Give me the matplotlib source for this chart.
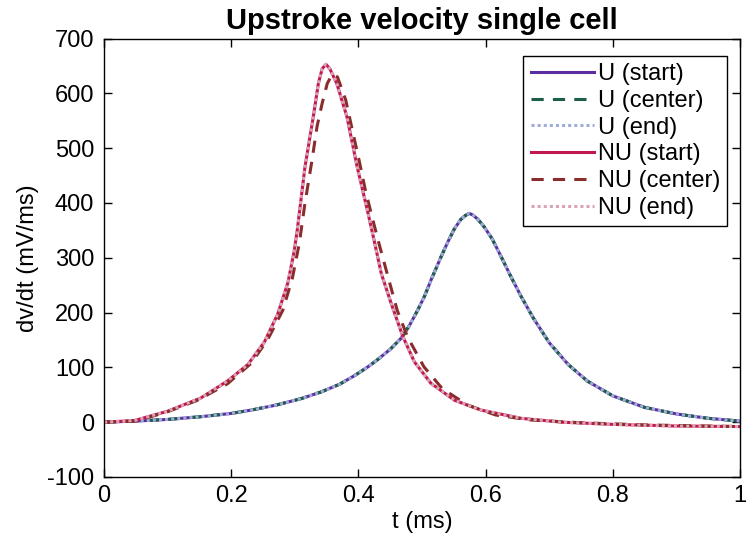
import matplotlib
matplotlib.use('Agg')
import matplotlib.pyplot as plt

# U curves (start, center and end overlap)
t_u = [0, 0.05, 0.1, 0.152, 0.2, 0.231, 0.27, 0.31, 0.341, 0.37, 0.394, 0.415, 0.43,
       0.45, 0.467, 0.48, 0.493, 0.504, 0.514, 0.53, 0.541, 0.551, 0.561, 0.568, 0.574,
       0.58, 0.588, 0.598, 0.61, 0.624, 0.64, 0.656, 0.675, 0.7, 0.73, 0.76, 0.8, 0.85,
       0.9, 0.95, 1.0]
v_u = [0, 2, 5, 10, 16, 22, 31, 43, 55, 69, 85, 101, 114,
       133, 153, 176, 204, 230, 259, 302, 330, 353, 370, 377, 381,
       378, 370, 356, 335, 303, 265, 229, 190, 145, 105, 75, 48, 27,
       15, 7, 2]

# NU start / end
t_nu = [0, 0.048, 0.1, 0.152, 0.194, 0.226, 0.252, 0.273, 0.289, 0.299, 0.304, 0.316,
        0.329, 0.337, 0.343, 0.349, 0.355, 0.366, 0.382, 0.398, 0.414, 0.425, 0.436,
        0.452, 0.47, 0.488, 0.514, 0.551, 0.593, 0.656, 0.72, 0.8, 0.9, 1.0]
v_nu = [0, 3, 20, 44, 75, 105, 146, 197, 254, 312, 352, 466,
        557, 618, 645, 653, 645, 618, 557, 466, 387, 330, 271,
        215, 156, 110, 71, 40, 22, 7, 0, -4, -7, -8]

# NU center
t_nuc = [0, 0.05, 0.1, 0.147, 0.194, 0.231, 0.257, 0.281, 0.296, 0.307, 0.316, 0.327,
         0.335, 0.343, 0.351, 0.359, 0.367, 0.38, 0.39, 0.401, 0.411, 0.422, 0.433,
         0.448, 0.461, 0.477, 0.503, 0.532, 0.572, 0.616, 0.67, 0.75, 0.85, 1.0]
v_nuc = [0, 2, 19, 40, 70, 107, 150, 204, 262, 326, 400, 478,
         540, 582, 618, 635, 630, 588, 535, 478, 423, 372, 323,
         259, 204, 156, 101, 61, 31, 13, 4, -1, -5, -8]

plt.rcParams['font.family'] = ['Liberation Sans', 'DejaVu Sans']
plt.rcParams['axes.unicode_minus'] = False

fig = plt.figure(figsize=(7.5, 5.48), dpi=100)
ax = fig.add_axes([0.1387, 0.1296, 0.848, 0.8])

lw = 2.2
ax.plot(t_u, v_u, color='#5b2d9e', lw=lw, ls='-', label='U (start)')
ax.plot(t_u, v_u, color='#1d5e48', lw=lw, ls=(0, (4, 3)), label='U (center)')
ax.plot(t_u, v_u, color='#a0acd9', lw=lw, ls=(0, (1, 1)), label='U (end)')
ax.plot(t_nu, v_nu, color='#c2174f', lw=lw, ls='-', label='NU (start)')
ax.plot(t_nuc, v_nuc, color='#8a2c2c', lw=lw, ls=(0, (4, 3)), label='NU (center)')
ax.plot(t_nu, v_nu, color='#dba3b6', lw=lw, ls=(0, (1, 1)), label='NU (end)')

ax.set_xlim(0, 1)
ax.set_ylim(-100, 700)
ax.set_xticks([0, 0.2, 0.4, 0.6, 0.8, 1])
ax.set_xticklabels(['0', '0.2', '0.4', '0.6', '0.8', '1'])
ax.set_yticks(range(-100, 701, 100))
ax.tick_params(direction='in', top=True, right=True, labelsize=17, length=6, width=1)
ax.tick_params(axis='y', pad=7)
ax.tick_params(axis='x', pad=6)
for s in ax.spines.values():
    s.set_linewidth(1)

ax.set_xlabel('t (ms)', fontsize=17, labelpad=3)
ax.set_ylabel('dv/dt (mV/ms)', fontsize=17, labelpad=6)
ax.set_title('Upstroke velocity single cell', fontsize=21, fontweight='bold', pad=7)

leg = ax.legend(loc='upper right', bbox_to_anchor=(0.98, 0.96), borderaxespad=0,
                fontsize=17, fancybox=False, framealpha=1, edgecolor='black',
                handlelength=2.7, handletextpad=0.15, labelspacing=0.2, borderpad=0.3)
leg.get_frame().set_linewidth(1)

fig.savefig('out.png', dpi=100)
